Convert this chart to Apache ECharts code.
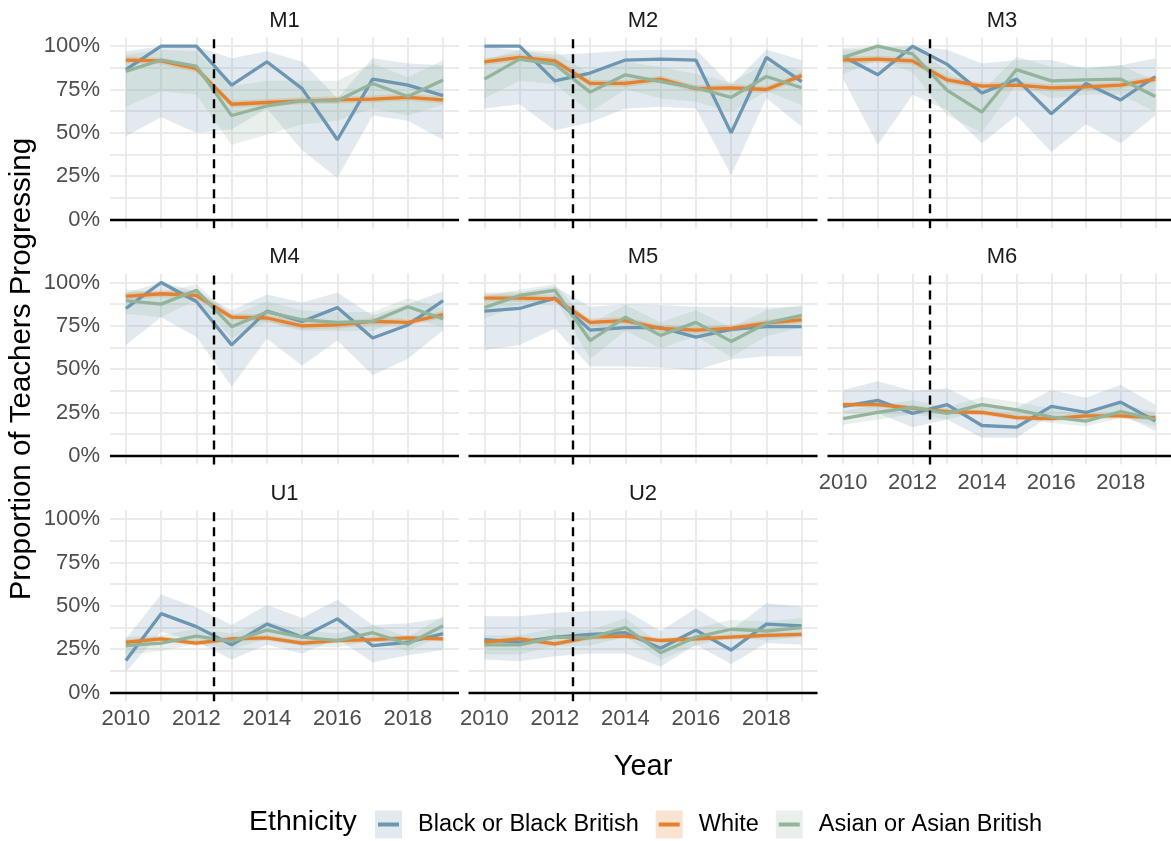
<!DOCTYPE html>
<html>
<head>
<meta charset="utf-8">
<title>Proportion of Teachers Progressing</title>
<script src="https://cdn.jsdelivr.net/npm/echarts@6/dist/echarts.min.js"></script>
<style>
  html, body { margin: 0; padding: 0; background: #fff; }
  #chart { width: 1171px; height: 841px; }
</style>
</head>
<body>
<div id="chart"></div>
<script>
// ---- data (percent) ----
const years = [2010, 2011, 2012, 2013, 2014, 2015, 2016, 2017, 2018, 2019];
const panels = ['M1', 'M2', 'M3', 'M4', 'M5', 'M6', 'U1', 'U2'];
const ethnicities = ['Black or Black British', 'White', 'Asian or Asian British'];
const xLabelTicks = [2010, 2012, 2014, 2016, 2018];
const xGridTicks = [2010, 2011, 2012, 2013, 2014, 2015, 2016, 2017, 2018, 2019];
const yLabelTicks = [0, 25, 50, 75, 100];
const yGridTicks = [0, 12.5, 25, 37.5, 50, 62.5, 75, 87.5, 100];
const policyYear = 2012.5;

// one row per panel, in the order of `panels`
const blackMean = [
  [86.5, 100, 100, 77.5, 91, 75.5, 46, 81, 77.5, 71.5],
  [100, 100, 80, 84.5, 92, 92.5, 92, 50, 93.5, 79.5],
  [94, 83.5, 100, 89.5, 73, 81, 61, 78.5, 69, 82.5],
  [85, 100, 89, 64, 83.5, 77.5, 85.5, 68, 75.5, 89.5],
  [83.5, 85, 91, 72.5, 74, 74, 68.5, 73, 74.5, 74.5],
  [28.5, 32, 24.5, 29.5, 17.5, 16.5, 28.5, 25, 31, 20],
  [18.5, 45.5, 38, 27.5, 39.5, 32, 42.5, 27, 29, 34],
  [30.5, 29, 32, 33.5, 34.5, 25.5, 36, 24.5, 39.5, 38.5]
];
const blackLo = [
  [48, 59, 50, 52, 64, 40, 24, 60, 57, 46],
  [64, 66.5, 51.5, 56, 64, 65, 64, 25.5, 70, 53.5],
  [81, 43, 72, 63, 44, 60, 39, 55, 44, 60],
  [64, 80, 68.5, 40, 67.5, 52, 66.5, 46.5, 56, 72.5],
  [61, 64, 73.5, 51.5, 51.5, 51, 49.5, 55.5, 57.5, 57.5],
  [24.5, 24.5, 16.5, 21, 10.5, 10.5, 23.5, 21, 24, 14.5],
  [12, 35, 29.5, 19, 27.5, 22.5, 31, 17.5, 21.5, 24.5],
  [19, 18, 21, 22.5, 22.5, 15, 27.5, 16.5, 28.5, 27.5]
];
const blackHi = [
  [97, 100, 100, 93, 97, 91, 70, 93, 90, 89],
  [100, 97.5, 95, 96, 97.5, 98, 98, 77.5, 98, 92],
  [98, 99, 100, 98, 90, 92, 92, 87, 89, 93],
  [94, 100, 95, 84, 93, 88.5, 94, 81, 87.5, 95],
  [94, 94.5, 97.5, 86, 87.5, 87, 86, 86, 85.5, 86],
  [38, 43, 37.5, 39, 29, 27.5, 38, 33.5, 41, 29.5],
  [31, 56.5, 49, 39, 50.5, 43, 53.5, 39, 40, 43],
  [44, 44, 46, 47, 47.5, 35.5, 48.5, 36, 51.5, 49.5]
];

const whiteMean = [
  [92, 91.5, 87, 66.5, 67.5, 68.5, 69, 69.5, 70.5, 69],
  [91, 93.5, 91.5, 78.5, 78.5, 81, 75.5, 76, 75, 83],
  [92, 92.5, 91.5, 80.5, 77, 77.5, 76, 76.5, 77.5, 81],
  [92, 93.5, 92.5, 80, 79.5, 75, 75.5, 77.5, 77, 81.5],
  [91, 91, 90.5, 77, 78, 73.5, 72.5, 73.5, 76.5, 78.5],
  [29.5, 29.5, 27.5, 25.5, 25, 22, 21.5, 23, 23, 22],
  [29, 31, 28.5, 31, 31.5, 28.5, 30, 30.5, 31.5, 31],
  [29, 31, 28, 32, 32.5, 30, 31, 32, 33, 33.5]
];
const whiteLo = [
  [90, 89.5, 85, 64.5, 65.5, 66.5, 67, 67.5, 68.5, 67],
  [89, 91.5, 89.5, 76.5, 76.5, 79, 73.5, 74, 73, 81],
  [90, 90.5, 89.5, 78.5, 75, 75.5, 74, 74.5, 75.5, 79],
  [90, 91.5, 90.5, 78, 77.5, 73, 73.5, 75.5, 75, 79.5],
  [89, 89, 88.5, 75, 76, 71.5, 70.5, 71.5, 74.5, 76.5],
  [28, 28, 26, 24, 23.5, 20.5, 20, 21.5, 21.5, 20.5],
  [27.5, 29.5, 27, 29.5, 30, 27, 28.5, 29, 30, 29.5],
  [27.5, 29.5, 26.5, 30.5, 31, 28.5, 29.5, 30.5, 31.5, 32]
];
const whiteHi = [
  [94, 93.5, 89, 68.5, 69.5, 70.5, 71, 71.5, 72.5, 71],
  [93, 95.5, 93.5, 80.5, 80.5, 83, 77.5, 78, 77, 85],
  [94, 94.5, 93.5, 82.5, 79, 79.5, 78, 78.5, 79.5, 83],
  [94, 95.5, 94.5, 82, 81.5, 77, 77.5, 79.5, 79, 83.5],
  [93, 93, 92.5, 79, 80, 75.5, 74.5, 75.5, 78.5, 80.5],
  [31, 31, 29, 27, 26.5, 23.5, 23, 24.5, 24.5, 23.5],
  [30.5, 32.5, 30, 32.5, 33, 30, 31.5, 32, 33, 32.5],
  [30.5, 32.5, 29.5, 33.5, 34, 31.5, 32.5, 33.5, 34.5, 35]
];

const asianMean = [
  [85.5, 92, 88.5, 60, 65.5, 68.5, 68.5, 78.5, 71, 80.5],
  [81, 92.5, 89.5, 73.5, 83.5, 79.5, 76, 70.5, 82.5, 76],
  [93.5, 100, 95.5, 74.5, 62, 86.5, 80, 80.5, 81, 71],
  [89.5, 87.5, 95.5, 74.5, 83, 78.5, 77, 77.5, 86, 79],
  [85.5, 92.5, 95.5, 66.5, 80, 69.5, 77, 66, 76.5, 81],
  [21.5, 25, 28, 24.5, 29.5, 26.5, 22.5, 20, 25.5, 21],
  [27, 28.5, 32.5, 29.5, 36, 32, 30, 34.5, 28, 38.5],
  [27.5, 27.5, 32, 31.5, 37.5, 23, 32, 36.5, 35.5, 37.5]
];
const asianLo = [
  [65, 74, 72, 43, 49, 55, 57, 64, 60, 66],
  [70, 80, 78, 62, 75, 70, 68, 62, 74, 66],
  [84, 92, 85, 60, 50, 78, 70, 72, 72, 62],
  [82, 80, 90, 68, 77, 72, 72, 72, 80, 74],
  [79, 87, 91, 56, 72, 62, 69, 57, 69, 74],
  [18, 21, 24, 21, 26, 22, 19, 17, 22, 17],
  [22, 24, 28, 25, 31, 27, 26, 30, 24, 33],
  [22, 22, 27, 27, 32, 19, 27, 32, 30, 32]
];
const asianHi = [
  [95, 98, 97, 77, 80, 80, 80, 90, 82, 92],
  [92, 98, 97, 84, 91, 88, 84, 79, 90, 86],
  [99, 100, 100, 86, 74, 94, 88, 88, 89, 80],
  [96, 94, 99, 81, 89, 84, 83, 83, 91, 85],
  [92, 96, 99, 76, 87, 77, 84, 74, 84, 87],
  [26, 29, 32, 28, 34, 31, 27, 24, 30, 25],
  [32, 33, 37, 34, 41, 36, 34, 39, 32, 44],
  [33, 33, 37, 36, 43, 28, 37, 42, 41, 43]
];

// ---- styling ----
const FONT = '"Liberation Sans", Arial, sans-serif';
const lineColors = ['#6d96b2', '#e3812f', '#93b49b'];
const bandColors = ['rgba(111,151,179,0.2)', 'rgba(232,126,42,0.22)', 'rgba(147,180,155,0.2)'];
const gridColor = '#ebebeb';

const colLeft = [110, 468.5, 827.5];
const rowTop = [37.5, 273.8, 510.5];
const panelW = 349;
const panelH = 190.7;

const means = [blackMean, whiteMean, asianMean];
const lows = [blackLo, whiteLo, asianLo];
const highs = [blackHi, whiteHi, asianHi];

const grids = [];
const xAxes = [];
const yAxes = [];
const series = [];
const titles = [];

// whole ribbon drawn as one polygon from the first item
function ribbonRenderer(lo, hi, fill) {
  return function (params, api) {
    if (params.dataIndex !== 0) return null;
    const upper = years.map((y, i) => api.coord([y, hi[i]]));
    const lower = years.map((y, i) => api.coord([y, lo[i]])).reverse();
    return {
      type: 'polygon',
      shape: { points: upper.concat(lower) },
      style: { fill: fill, stroke: null }
    };
  };
}

panels.forEach((p, pi) => {
  const col = pi % 3;
  const row = Math.floor(pi / 3);
  const left = colLeft[col];
  const top = rowTop[row];
  const showX = pi >= 5;       // bottom panel of each column
  const showY = col === 0;

  grids.push({ left, top, width: panelW, height: panelH });

  titles.push({
    text: p,
    left: left + panelW / 2,
    top: top - 28,
    textAlign: 'center',
    padding: 0,
    textStyle: { fontFamily: FONT, fontSize: 22, fontWeight: 'normal', color: '#1a1a1a' }
  });

  xAxes.push({
    type: 'value',
    gridIndex: pi,
    min: 2009.55,
    max: 2019.45,
    axisLine: { show: false },
    axisTick: { show: false, customValues: xGridTicks },
    splitLine: { show: true, lineStyle: { color: gridColor, width: 2 } },
    axisLabel: {
      show: showX,
      customValues: xLabelTicks,
      formatter: (v) => String(v),
      margin: 7,
      fontFamily: FONT,
      fontSize: 22,
      color: '#4d4d4d'
    },
    name: pi === 7 ? 'Year' : '',
    nameLocation: 'middle',
    nameGap: 51,
    nameTextStyle: { fontFamily: FONT, fontSize: 29, color: '#000' }
  });

  yAxes.push({
    type: 'value',
    gridIndex: pi,
    min: -5,
    max: 105,
    axisLine: { show: false },
    axisTick: { show: false, customValues: yGridTicks },
    splitLine: { show: true, lineStyle: { color: gridColor, width: 2 } },
    axisLabel: {
      show: showY,
      customValues: yLabelTicks,
      formatter: '{value}%',
      margin: 10,
      fontFamily: FONT,
      fontSize: 22,
      color: '#4d4d4d'
    },
    name: pi === 3 ? 'Proportion of Teachers Progressing' : '',
    nameLocation: 'middle',
    nameGap: 73,
    nameTextStyle: { fontFamily: FONT, fontSize: 29.5, color: '#000' }
  });

  // confidence ribbons
  ethnicities.forEach((eth, ei) => {
    const lo = lows[ei][pi];
    const hi = highs[ei][pi];
    series.push({
      type: 'custom',
      xAxisIndex: pi, yAxisIndex: pi,
      silent: true, z: 1,
      renderItem: ribbonRenderer(lo, hi, bandColors[ei]),
      encode: { x: 0, y: [1, 2] },
      data: years.map((y, i) => [y, lo[i], hi[i]])
    });
  });

  // mean lines
  ethnicities.forEach((eth, ei) => {
    const s = {
      name: eth,
      type: 'line', xAxisIndex: pi, yAxisIndex: pi,
      symbol: 'none', z: 3,
      lineStyle: { color: lineColors[ei], width: 3.3 },
      itemStyle: { color: lineColors[ei] },
      emphasis: { disabled: true },
      data: years.map((y, i) => [y, means[ei][pi][i]])
    };
    if (ei === 2) {
      s.markLine = {
        silent: true,
        symbol: ['none', 'none'],
        label: { show: false },
        animation: false,
        z: 4,
        data: [
          { xAxis: policyYear, lineStyle: { color: '#000', width: 2.4, type: [9, 6] } },
          { yAxis: 0, lineStyle: { color: '#000', width: 2.4, type: 'solid' } }
        ]
      };
    }
    series.push(s);
  });
});

// legend title
titles.push({
  text: 'Ethnicity',
  left: 249,
  top: 808,
  padding: 0,
  textStyle: { fontFamily: FONT, fontSize: 28.5, fontWeight: 'normal', color: '#000' }
});

const legendText = { fontFamily: FONT, fontSize: 23.5, lineHeight: 28 };

const option = {
  animation: false,
  backgroundColor: '#ffffff',
  title: titles,
  grid: grids,
  xAxis: xAxes,
  yAxis: yAxes,
  legend: [
    // key background boxes
    {
      left: 375, top: 810.5, padding: 0,
      orient: 'horizontal', selectedMode: false,
      itemWidth: 27, itemHeight: 28, itemGap: 20,
      textStyle: Object.assign({}, legendText, { color: 'rgba(0,0,0,0)', padding: [0, 0, 0, 8] }),
      data: ethnicities.map((e, i) => ({ name: e, icon: 'rect', itemStyle: { color: bandColors[i], borderWidth: 0 } }))
    },
    // key lines + labels
    {
      left: 378, top: 810.5, padding: 0,
      orient: 'horizontal', selectedMode: false,
      itemWidth: 21, itemHeight: 4, itemGap: 20,
      textStyle: Object.assign({}, legendText, { color: '#000', padding: [0, 0, 0, 14] }),
      data: ethnicities.map((e, i) => ({ name: e, icon: 'rect', itemStyle: { color: lineColors[i], borderWidth: 0 } }))
    }
  ],
  series
};

const chart = echarts.init(document.getElementById('chart'));
chart.setOption(option);
</script>
</body>
</html>
